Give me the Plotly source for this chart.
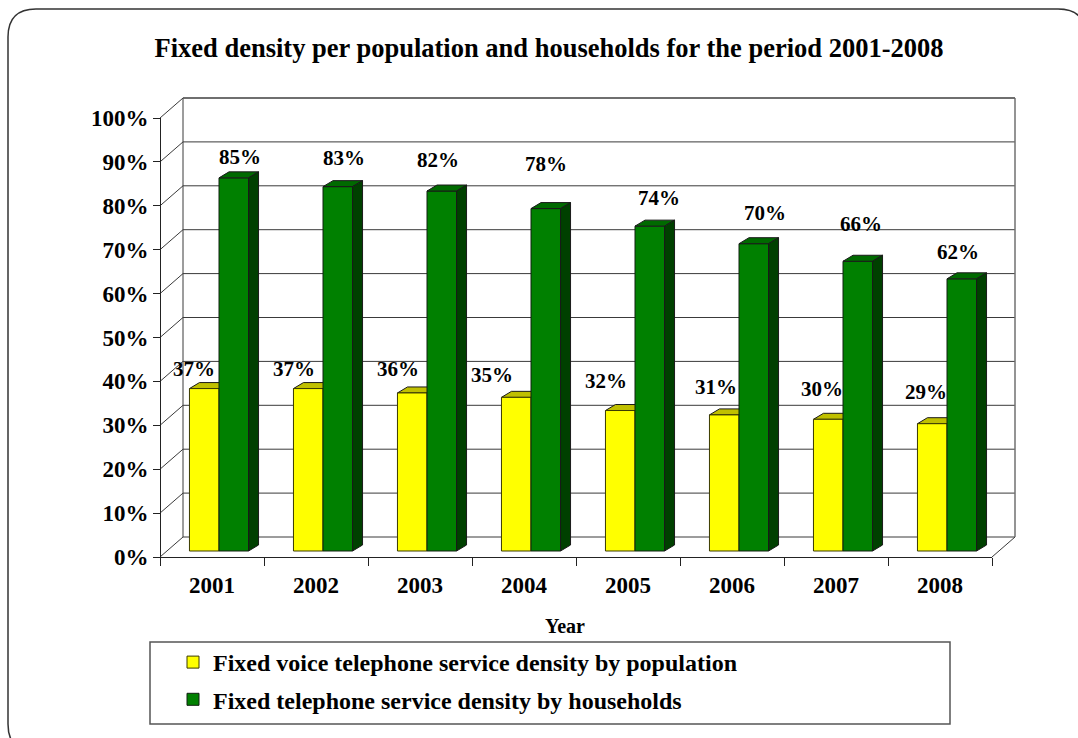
import plotly.graph_objects as go

# ---- data -------------------------------------------------------------
years = ["2001", "2002", "2003", "2004", "2005", "2006", "2007", "2008"]
density_population = [37, 37, 36, 35, 32, 31, 30, 29]   # %
density_households = [85, 83, 82, 78, 74, 70, 66, 62]   # %
y_ticks = list(range(0, 101, 10))
y_tick_labels = [f"{v}%" for v in y_ticks]

name_population = "Fixed voice telephone service density by population"
name_households = "Fixed telephone service density by households"
title_text = "Fixed density per population and households for the period 2001-2008"

# ---- label nudges (pixels, x right / y up) ----------------------------
nudge_population = [(-10, 20), (-14, 20), (-14, 24), (-24, 22), (-14, 30), (-8, 28), (-6, 30), (-6, 32)]
nudge_households = [(6, 21), (6, 29), (-4, 31), (0, 45), (9, 28), (11, 31), (3, 37), (-4, 27)]

# ---- geometry of the pseudo-3D box -----------------------------------
W_FIG, H_FIG = 1078, 738
PX = 104.0          # pixels per category
PY = 4.39           # pixels per percentage point
ORIGIN_X = 219.0    # pixel x of first category centre in the bar plane
ORIGIN_Y = 551.0    # pixel y of 0 % in the bar plane
FRONT = (-7.0, -6.0)   # front plane offset from bar plane (px right, px up)
BACK = (16.0, 14.0)    # back wall offset from bar plane
DEPTH = (10.0, 6.0)    # depth of each bar
BAR_W = 0.284          # bar width in category units

fdx, fdy = FRONT[0] / PX, FRONT[1] / PY
bdx, bdy = BACK[0] / PX, BACK[1] / PY
ddx, ddy = DEPTH[0] / PX, DEPTH[1] / PY

n = len(years)
idx = list(range(n))
lf, rf = -0.5 + fdx, n - 0.5 + fdx
lb, rb = -0.5 + bdx, n - 0.5 + bdx
vmax = y_ticks[-1]

FONT = "Liberation Serif, Times New Roman, serif"
WALL = "#3a3a3a"

shapes = []


def line(x0, y0, x1, y1, color=WALL, width=1, layer="below"):
    shapes.append(dict(type="line", xref="x", yref="y", x0=x0, y0=y0, x1=x1, y1=y1,
                       line=dict(color=color, width=width), layer=layer))


def poly(pts, fill, layer):
    path = "M " + " L ".join(f"{x},{y}" for x, y in pts) + " Z"
    shapes.append(dict(type="path", xref="x", yref="y", path=path, fillcolor=fill,
                       line=dict(color="#1a1a1a", width=1), layer=layer))


# back wall gridlines and left wall diagonals
for v in y_ticks:
    line(lb, v + bdy, rb, v + bdy)
    line(lf, v + fdy, lb, v + bdy)
line(lb, bdy, lb, vmax + bdy)
line(rb, bdy, rb, vmax + bdy, color="#707070", width=1.5)
line(lb, vmax + bdy, rb, vmax + bdy, color="#606060", width=1.5)
line(rf, fdy, rb, bdy)

# tops of the yellow bars sit behind the green bars
for i, v in zip(idx, density_population):
    a, b = i - BAR_W, i
    poly([(a, v), (b, v), (b + ddx, v + ddy), (a + ddx, v + ddy)], "#C0C000", "below")

# tops and sides of the green bars
for i, v in zip(idx, density_households):
    a, b = i, i + BAR_W
    poly([(a, v), (b, v), (b + ddx, v + ddy), (a + ddx, v + ddy)], "#006A00", "above")
    poly([(b, 0), (b, v), (b + ddx, v + ddy), (b + ddx, ddy)], "#004000", "above")


def px_x(p):
    return p / W_FIG


def px_y(p):
    return 1 - p / H_FIG


# rounded outer frame (runs off the right and bottom edges)
L, T, R, B, r = 8, 9, 1086, 752, 28
frame = (f"M {px_x(L + r)},{px_y(T)} L {px_x(R - r)},{px_y(T)} "
         f"Q {px_x(R)},{px_y(T)} {px_x(R)},{px_y(T + r)} L {px_x(R)},{px_y(B - r)} "
         f"Q {px_x(R)},{px_y(B)} {px_x(R - r)},{px_y(B)} L {px_x(L + r)},{px_y(B)} "
         f"Q {px_x(L)},{px_y(B)} {px_x(L)},{px_y(B - r)} L {px_x(L)},{px_y(T + r)} "
         f"Q {px_x(L)},{px_y(T)} {px_x(L + r)},{px_y(T)} Z")
shapes.append(dict(type="path", xref="paper", yref="paper", path=frame,
                   line=dict(color="#333333", width=1.5), layer="below"))

# legend box
shapes.append(dict(type="rect", xref="paper", yref="paper",
                   x0=px_x(150), x1=px_x(950), y0=px_y(724), y1=px_y(642),
                   line=dict(color="#555555", width=1.5), layer="below"))

fig = go.Figure()

fig.add_trace(go.Bar(
    x=idx, y=density_population, width=BAR_W, offset=-BAR_W,
    name=name_population, legendgroup="pop",
    marker=dict(color="#FFFF00", line=dict(color="#3a3a00", width=1)),
    hoverinfo="skip"))
fig.add_trace(go.Bar(
    x=idx, y=density_households, width=BAR_W, offset=0,
    name=name_households, legendgroup="hh",
    marker=dict(color="#008000", line=dict(color="#102010", width=1)),
    hoverinfo="skip"))

# carrier for the front axes
fig.add_trace(go.Scatter(x=years, y=[0] * n, xaxis="x2", yaxis="y2", mode="markers",
                         marker=dict(opacity=0), showlegend=False, hoverinfo="skip"))

label_font = dict(family=FONT, size=21, color="black", weight="bold")
annotations = []
for i, v, (dx, dy) in zip(idx, density_population, nudge_population):
    annotations.append(dict(x=i - BAR_W / 2, y=v, xref="x", yref="y", text=f"{v}%",
                            xanchor="center", yanchor="middle",
                            showarrow=False, xshift=dx, yshift=dy, font=label_font))
for i, v, (dx, dy) in zip(idx, density_households, nudge_households):
    annotations.append(dict(x=i + BAR_W / 2, y=v, xref="x", yref="y", text=f"{v}%",
                            xanchor="center", yanchor="middle",
                            showarrow=False, xshift=dx, yshift=dy, font=label_font))
annotations.append(dict(x=px_x(565), y=px_y(626), xref="paper", yref="paper", text="Year",
                        xanchor="center", yanchor="middle", showarrow=False,
                        font=dict(family=FONT, size=20, color="black", weight="bold")))

front_bottom = ORIGIN_Y - FRONT[1]
front_left = ORIGIN_X - 0.5 * PX + FRONT[0]
tick_font = dict(family=FONT, size=23, color="black", weight="bold")

fig.update_layout(
    width=W_FIG, height=H_FIG, autosize=False,
    margin=dict(l=0, r=0, t=0, b=0, pad=0, autoexpand=False),
    paper_bgcolor="white", plot_bgcolor="rgba(0,0,0,0)",
    barmode="overlay",
    title=dict(text=title_text, x=px_x(549), y=px_y(48), xanchor="center", yanchor="middle",
               xref="paper", yref="paper", automargin=False,
               font=dict(family=FONT, size=26.5, color="black", weight="bold")),
    xaxis=dict(visible=False, range=[-ORIGIN_X / PX, (W_FIG - ORIGIN_X) / PX], fixedrange=True),
    yaxis=dict(visible=False, range=[-(H_FIG - ORIGIN_Y) / PY, ORIGIN_Y / PY], fixedrange=True),
    xaxis2=dict(type="category", domain=[px_x(front_left), px_x(front_left + n * PX)],
                range=[-0.5, n - 0.5], anchor="free", position=px_y(front_bottom),
                showline=True, linecolor="#222", linewidth=1, showgrid=False, zeroline=False,
                ticks="outside", ticklen=8, tickcolor="#222", tickson="boundaries",
                ticklabelstandoff=7,
                tickfont=tick_font, automargin=False, fixedrange=True),
    yaxis2=dict(domain=[px_y(front_bottom), px_y(front_bottom - vmax * PY)],
                range=[0, vmax], anchor="free", position=px_x(front_left),
                tickmode="array", tickvals=y_ticks, ticktext=y_tick_labels,
                showline=True, linecolor="#222", linewidth=1, showgrid=False, zeroline=False,
                ticks="outside", ticklen=7, tickcolor="#222",
                tickfont=tick_font, automargin=False, fixedrange=True),
    legend=dict(x=px_x(173), y=px_y(640), xanchor="left", yanchor="top",
                bgcolor="rgba(0,0,0,0)", borderwidth=0, traceorder="grouped",
                tracegroupgap=3,
                font=dict(family=FONT, size=24, color="black", weight="bold")),
    shapes=shapes,
    annotations=annotations,
    showlegend=True,
)

fig.write_html("out.html")
